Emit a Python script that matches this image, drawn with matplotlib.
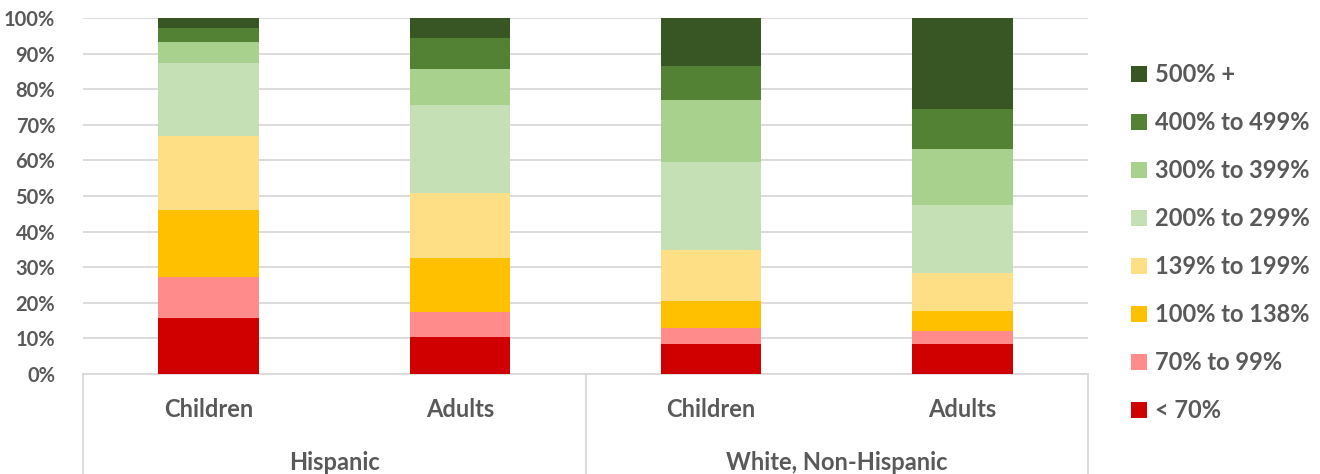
import numpy as np
import matplotlib
matplotlib.use("Agg")
import matplotlib.pyplot as plt
from matplotlib.patches import Patch

plt.rcParams['font.family'] = ['Lato', 'DejaVu Sans']

# Data (share of each group, %)
groups = ["Hispanic", "White, Non-Hispanic"]
ages = ["Children", "Adults", "Children", "Adults"]
bands = ["< 70%", "70% to 99%", "100% to 138%", "139% to 199%",
         "200% to 299%", "300% to 399%", "400% to 499%", "500% +"]
colors = ["#D00000", "#FF8B8B", "#FFC000", "#FFDF85",
          "#C5E0B4", "#A9D18E", "#548235", "#375623"]

lt70 = [15.8, 10.4, 8.5, 8.5]
p70_99 = [11.4, 7.1, 4.5, 3.7]
p100_138 = [18.8, 15.1, 7.5, 5.5]
p139_199 = [20.8, 18.2, 14.4, 10.6]
p200_299 = [20.6, 24.8, 24.7, 19.3]
p300_399 = [5.9, 10.1, 17.4, 15.6]
p400_499 = [3.9, 8.7, 9.6, 11.3]
p500 = [2.8, 5.6, 13.4, 25.5]
series = [lt70, p70_99, p100_138, p139_199, p200_299, p300_399, p400_499, p500]

text_col = "#595959"
grid_col = "#D9D9D9"

fig = plt.figure(figsize=(13.2, 4.74), dpi=100)
ax = fig.add_axes([83 / 1320, 100 / 474, 1005 / 1320, 356 / 474])

x = np.arange(len(ages))
bottom = np.zeros(len(ages))
for vals, col, lab in zip(series, colors, bands):
    ax.bar(x, vals, width=0.4, bottom=bottom, color=col, label=lab,
           edgecolor="none", zorder=3)
    bottom += np.array(vals)

ax.set_xlim(-0.5, len(ages) - 0.5)
ax.set_ylim(0, 100)
ax.set_yticks(np.arange(0, 101, 10))
ax.set_yticklabels([f"{v}%" for v in range(0, 101, 10)],
                   fontsize=14.5, fontweight="bold", color=text_col)
ax.tick_params(axis="y", length=0, pad=20)
ax.set_xticks([])
ax.yaxis.grid(True, color=grid_col, linewidth=1.3, zorder=0)
for s in ["top", "right", "left"]:
    ax.spines[s].set_visible(False)
ax.spines["bottom"].set_color(grid_col)
ax.spines["bottom"].set_linewidth(1.3)

# two-level category axis
trans = ax.get_xaxis_transform()
for xv in [-0.5, 1.5, 3.5]:
    ax.plot([xv, xv], [0, -0.29], transform=trans, color=grid_col,
            linewidth=1.3, clip_on=False)
for xi, a in zip(x, ages):
    ax.text(xi, -0.1, a, transform=trans, ha="center", va="center",
            fontsize=17, fontweight="bold", color=text_col)
for gi, g in enumerate(groups):
    ax.text(gi * 2 + 0.5, -0.25, g, transform=trans, ha="center",
            va="center", fontsize=17, fontweight="bold", color=text_col)

handles = [Patch(facecolor=c, edgecolor="none") for c in colors]
leg = fig.legend(handles[::-1], bands[::-1], loc="upper left",
                 bbox_to_anchor=(1110 / 1320, 1 - 42 / 474), frameon=False,
                 prop={"size": 17, "weight": "bold"}, labelspacing=1.06,
                 handlelength=0.65, handleheight=0.65, handletextpad=0.35)
for t in leg.get_texts():
    t.set_color(text_col)

fig.savefig("out.png", dpi=100)
